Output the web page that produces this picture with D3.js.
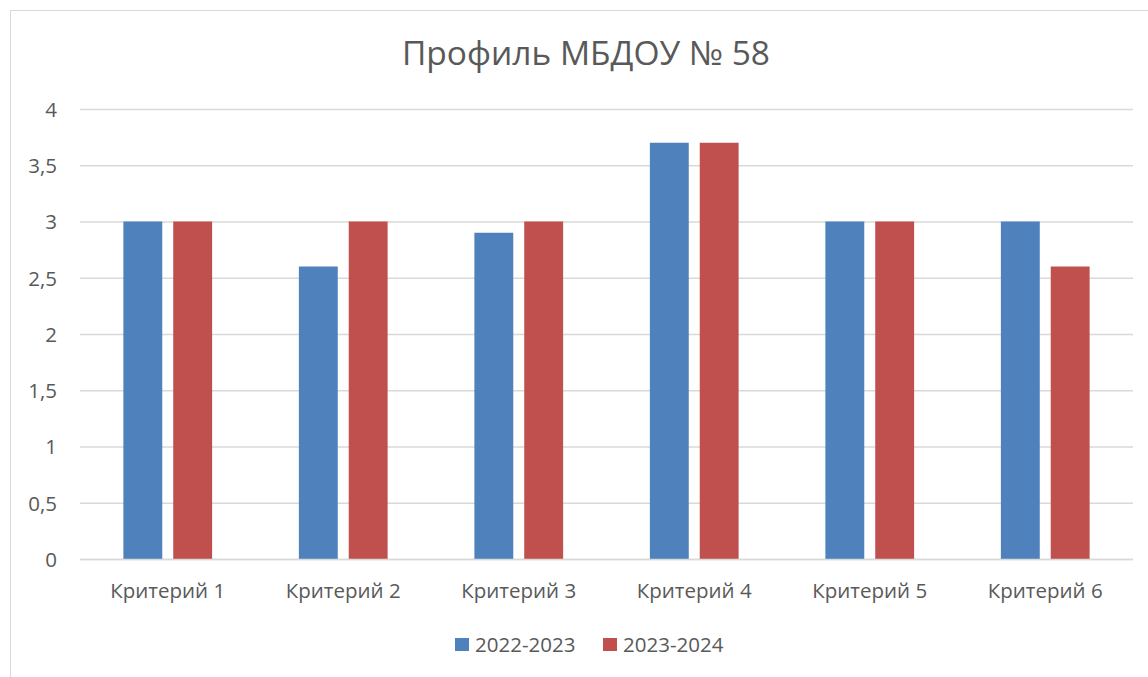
<!DOCTYPE html>
<html><head><meta charset="utf-8">
<script src="https://cdn.jsdelivr.net/npm/d3@7"></script>
<style>body{margin:0;background:#fff}svg{display:block}text{font-family:"Open Sans","Liberation Sans",sans-serif;fill:#595959}</style>
</head><body><svg id="c" width="1148" height="677"></svg>
<script>
const categories = ["Критерий 1","Критерий 2","Критерий 3","Критерий 4","Критерий 5","Критерий 6"];
const seriesNames = ["2022-2023","2023-2024"];
const values2022 = [3, 2.6, 2.9, 3.7, 3, 3];
const values2023 = [3, 3, 3, 3.7, 3, 2.6];
const yTicks = [0,0.5,1,1.5,2,2.5,3,3.5,4];
const colors = ["#4F81BD","#C0504D"];
const title = "Профиль МБДОУ № 58";

const svg = d3.select("#c");
svg.append("rect").attr("x",10.5).attr("y",10.5).attr("width",1200).attr("height",700)
  .attr("fill","#fff").attr("stroke","#d9d9d9").attr("stroke-width",1);

const L=80,R=1133,T=109,B=559;
const x0 = d3.scaleBand().domain(categories).range([L,R]).padding(0);
const x1 = d3.scaleBand().domain(seriesNames).range([0,x0.bandwidth()]).paddingInner(0.22).paddingOuter(0.87);
const y = d3.scaleLinear().domain([0,4]).range([B,T]);

const yAxis = d3.axisLeft(y).tickValues(yTicks).tickSize(-(R-L)).tickFormat(d=>String(d).replace(".",","));
const gy = svg.append("g").attr("transform",`translate(${L},0)`).call(yAxis);
gy.select(".domain").remove();
gy.selectAll(".tick line").attr("stroke","#d9d9d9").attr("stroke-width",1.3);
gy.selectAll(".tick text").attr("x",-23).attr("dy","0.36em").attr("font-size",20.5).style("fill","#595959");

const data = categories.map((c,i)=>({c, v:[values2022[i],values2023[i]]}));
svg.append("g").selectAll("g").data(data).join("g")
  .attr("transform",d=>`translate(${x0(d.c)},0)`)
  .selectAll("rect").data(d=>d.v.map((v,j)=>({s:seriesNames[j],v,j}))).join("rect")
  .attr("x",d=>x1(d.s)).attr("width",x1.bandwidth())
  .attr("y",d=>y(d.v)).attr("height",d=>B-y(d.v)).attr("fill",d=>colors[d.j]);

svg.append("line").attr("x1",L).attr("x2",R).attr("y1",B+0.5).attr("y2",B+0.5).attr("stroke","#d9d9d9").attr("stroke-width",1.5);

const xAxis = d3.axisBottom(x0).tickSize(0);
const gx = svg.append("g").attr("transform",`translate(0,${B})`).call(xAxis);
gx.select(".domain").remove();
gx.selectAll(".tick text").attr("y",39).attr("dy",0).attr("font-size",20.5).style("fill","#595959");

svg.append("text").attr("x",586).attr("y",65).attr("text-anchor","middle").attr("font-size",33.5).text(title);

const leg = [{x:455},{x:603}];
seriesNames.forEach((s,i)=>{
  svg.append("rect").attr("x",leg[i].x).attr("y",638).attr("width",14).attr("height",13).attr("fill",colors[i]);
  svg.append("text").attr("x",leg[i].x+20).attr("y",652).attr("font-size",20.5).text(s);
});
</script></body></html>
